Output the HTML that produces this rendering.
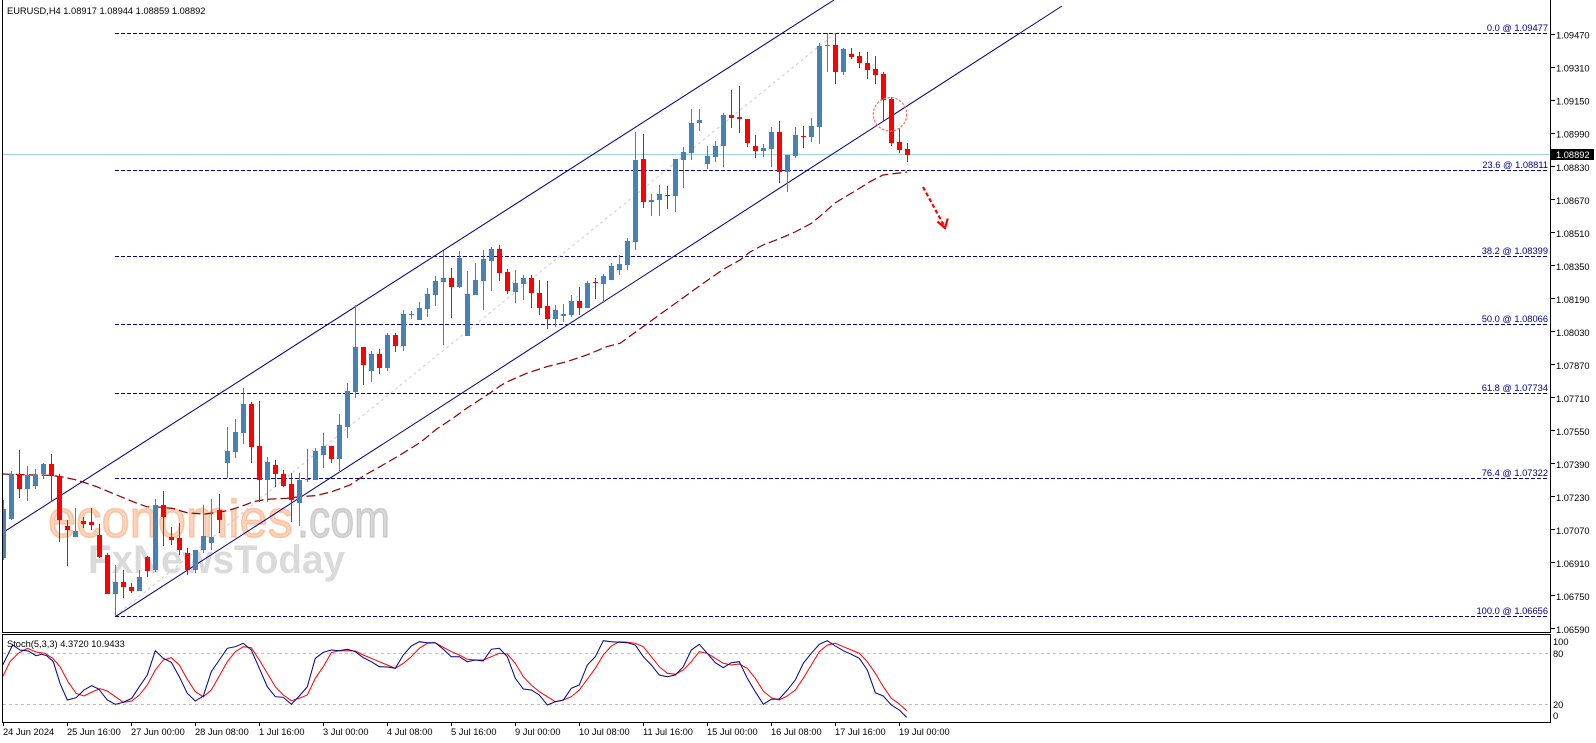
<!DOCTYPE html>
<html><head><meta charset="utf-8"><style>
html,body{margin:0;padding:0;background:#fff;width:1596px;height:743px;overflow:hidden}
svg{display:block}
text{font-family:"Liberation Sans",Arial,sans-serif;font-size:9.3px;fill:#000}
.fib{fill:#000080;text-anchor:end}
</style></head><body>
<svg width="1596" height="743" viewBox="0 0 1596 743" xmlns="http://www.w3.org/2000/svg">
<defs>
<clipPath id="main"><rect x="3" y="0" width="1547" height="632"/></clipPath>
<clipPath id="ind"><rect x="3" y="635" width="1547" height="87"/></clipPath>
</defs>
<rect width="1596" height="743" fill="#fff"/>

<g clip-path="url(#main)">
<!-- watermark (behind) -->
<text x="48" y="537" textLength="245" lengthAdjust="spacingAndGlyphs" style="font-size:53px;fill:#f7a068;fill-opacity:0.45;stroke:#f7a068;stroke-opacity:0.45;stroke-width:1.6">economies</text>
<text x="297" y="537" textLength="93" lengthAdjust="spacingAndGlyphs" style="font-size:53px;fill:#b0b0b0;fill-opacity:0.5;stroke:#b0b0b0;stroke-opacity:0.5;stroke-width:1.4">.com</text>
<text x="88" y="573" textLength="257" lengthAdjust="spacingAndGlyphs" style="font-size:40px;font-weight:bold;fill:#a8a8a8;fill-opacity:0.42">FxNewsToday</text>

<!-- current price line -->
<line x1="2" y1="154.5" x2="1550" y2="154.5" stroke="#9ed6e2" stroke-width="1"/>
<!-- fib lines -->
<g stroke="#000080" stroke-width="1" stroke-dasharray="4,2" shape-rendering="crispEdges">
<line x1="115" y1="33.5" x2="1548" y2="33.5"/>
<line x1="115" y1="170.5" x2="1548" y2="170.5"/>
<line x1="115" y1="256.5" x2="1548" y2="256.5"/>
<line x1="115" y1="324.5" x2="1548" y2="324.5"/>
<line x1="115" y1="393.5" x2="1548" y2="393.5"/>
<line x1="115" y1="478.5" x2="1548" y2="478.5"/>
<line x1="115" y1="616.5" x2="1548" y2="616.5"/>
</g>
<!-- fib diagonal -->
<line x1="115.3" y1="616" x2="835" y2="33.3" stroke="#c8c8f0" stroke-width="1" stroke-dasharray="3,3"/>
<!-- channel -->
<line x1="2.5" y1="532.8" x2="834" y2="0" stroke="#000080" stroke-width="1"/>
<line x1="115.3" y1="616.7" x2="1062" y2="6" stroke="#000080" stroke-width="1"/>
<!-- MA -->
<path d="M2.7 474L33 475L50 475.3L63 477L76.7 480L96.7 486.7L116.7 495L133 501.7L146.7 506.7L163 507.3L173 508.5L188 513L205 514L220 512L230 510L245 505L253 501.7L266.7 499.3L286.7 498.3L300 496.7L316.7 495.5L331.7 491.7L350 485L365 475L380 466.7L400 455L420 442.7L436.7 429L453.3 418L466.7 408.3L476.7 401.7L490 393L500 386L506.7 382L526.7 373.3L546.7 366.7L566.7 361.7L586.7 355L606.7 346.7L620 343.3L650 321.6L680 300L700 285.6L723.3 269.3L740 260L750 252L763 245L780 238.5L795 232L812 223L825 212L835 203L850 194L860 188L870 181.7L883 175L895 173.5L907 172" fill="none" stroke="#8b0000" stroke-width="1.2" stroke-dasharray="9,4"/>

<!-- candles blue -->
<path d="M3.5 500V560M11.5 471V520M27.5 466V501M35.5 469V489M43.5 463V479M75.5 508V537M115.5 565V616M139.5 570V591M155.5 499V572M195.5 550V573M203.5 505V553M211.5 499V550M227.5 427V478M235.5 419V458M243.5 388V444M267.5 457V502M299.5 473V526M307.5 449V482M315.5 448V480M323.5 433V468M339.5 414V471M347.5 383V438M355.5 305V398M371.5 351V382M387.5 333V371M403.5 310V351M411.5 311V319M419.5 302V320M427.5 288V317M435.5 276V306M443.5 251V345M459.5 251V288M467.5 271V336M475.5 263V295M483.5 250V310M491.5 247V291M515.5 270V303M523.5 275V300M555.5 305V327M563.5 304V322M571.5 295V317M587.5 281V308M603.5 274V303M611.5 263V280M619.5 255V275M627.5 238V270M635.5 132V250M651.5 194V216M659.5 185V216M675.5 159V212M683.5 147V188M691.5 109V160M699.5 109V131M707.5 146V169M715.5 141V162M723.5 113V167M763.5 144V157M771.5 127V167M787.5 155V192M795.5 127V158M811.5 118V142M819.5 43V144M827.5 33V72M843.5 48V75" stroke="#4682b4" stroke-width="1" fill="none" shape-rendering="crispEdges"/>
<path d="M1 509h5v49h-5zM9 474h5v45h-5zM25 475h5v14h-5zM33 475h5v11h-5zM41 464h5v10h-5zM73 531h5v6h-5zM113 582h5v12h-5zM137 577h5v14h-5zM153 505h5v65h-5zM193 550h5v20h-5zM201 536h5v14h-5zM209 537h5v6h-5zM225 451h5v12h-5zM233 432h5v20h-5zM241 404h5v29h-5zM265 462h5v18h-5zM297 480h5v23h-5zM305 479h5v1h-5zM313 451h5v29h-5zM321 446h5v9h-5zM337 425h5v34h-5zM345 391h5v36h-5zM353 347h5v45h-5zM369 354h5v17h-5zM385 335h5v33h-5zM401 314h5v32h-5zM409 314h5v1h-5zM417 308h5v12h-5zM425 294h5v15h-5zM433 281h5v14h-5zM441 278h5v4h-5zM457 258h5v29h-5zM465 294h5v42h-5zM473 280h5v15h-5zM481 259h5v22h-5zM489 249h5v12h-5zM513 283h5v9h-5zM521 278h5v6h-5zM553 310h5v9h-5zM561 314h5v2h-5zM569 301h5v14h-5zM585 283h5v25h-5zM601 276h5v8h-5zM609 266h5v14h-5zM617 264h5v6h-5zM625 241h5v24h-5zM633 160h5v82h-5zM649 200h5v2h-5zM657 194h5v6h-5zM673 159h5v37h-5zM681 152h5v8h-5zM689 123h5v30h-5zM697 120h5v3h-5zM705 156h5v8h-5zM713 146h5v11h-5zM721 115h5v31h-5zM761 148h5v3h-5zM769 132h5v17h-5zM785 155h5v17h-5zM793 135h5v21h-5zM809 126h5v11h-5zM817 46h5v81h-5zM825 45h5v1h-5zM841 49h5v23h-5z" fill="#4682b4" shape-rendering="crispEdges"/>
<!-- candles red -->
<path d="M19.5 450V498M51.5 454V502M59.5 474V542M67.5 520V566M83.5 517V528M91.5 508V530M99.5 524V558M107.5 553V594M123.5 570V598M131.5 583V593M147.5 556V577M163.5 491V546M171.5 527V545M179.5 523V555M187.5 548V575M219.5 494V533M251.5 402V463M259.5 401V502M275.5 460V487M283.5 470V487M291.5 473V522M331.5 446V463M363.5 347V385M379.5 349V374M395.5 333V352M451.5 268V318M499.5 245V281M507.5 269V294M531.5 275V308M539.5 280V315M547.5 281V329M579.5 287V315M595.5 278V299M643.5 134V208M667.5 186V209M731.5 90V128M739.5 86V133M747.5 119V147M755.5 135V158M779.5 121V183M803.5 126V148M835.5 33V84M851.5 48V59M859.5 52V68M867.5 52V79M875.5 56V84M883.5 72V122M891.5 97V146M899.5 128V153M907.5 143V162" stroke="#ff0000" stroke-width="1" fill="none" shape-rendering="crispEdges"/>
<path d="M17 474h5v15h-5zM49 464h5v12h-5zM57 476h5v44h-5zM65 526h5v4h-5zM81 521h5v3h-5zM89 522h5v3h-5zM97 535h5v22h-5zM105 555h5v39h-5zM121 582h5v5h-5zM129 587h5v4h-5zM145 557h5v14h-5zM161 505h5v12h-5zM169 537h5v3h-5zM177 538h5v12h-5zM185 553h5v17h-5zM217 510h5v10h-5zM249 404h5v43h-5zM257 446h5v34h-5zM273 465h5v9h-5zM281 474h5v12h-5zM289 484h5v16h-5zM329 446h5v13h-5zM361 347h5v18h-5zM377 354h5v14h-5zM393 335h5v11h-5zM449 278h5v9h-5zM497 249h5v24h-5zM505 272h5v19h-5zM529 278h5v15h-5zM537 293h5v15h-5zM545 306h5v13h-5zM577 301h5v7h-5zM593 282h5v1h-5zM641 159h5v43h-5zM665 195h5v1h-5zM729 115h5v3h-5zM737 117h5v2h-5zM745 119h5v24h-5zM753 146h5v5h-5zM777 132h5v40h-5zM801 136h5v1h-5zM833 45h5v27h-5zM849 54h5v3h-5zM857 56h5v7h-5zM865 63h5v7h-5zM873 69h5v6h-5zM881 74h5v26h-5zM889 99h5v44h-5zM897 142h5v8h-5zM905 149h5v6h-5z" fill="#ff0000" shape-rendering="crispEdges"/>

<!-- circle & arrow -->
<circle cx="890" cy="114.3" r="16.7" fill="none" stroke="#ff7070" stroke-width="1.3" stroke-dasharray="2.5,1.5"/>
<line x1="923" y1="187" x2="944.5" y2="226.5" stroke="#ff0000" stroke-width="2.2" stroke-dasharray="4,2.5"/>
<path d="M937.5 221.5L945 228L947.8 218.5" fill="none" stroke="#ff0000" stroke-width="2.2"/>
</g>

<!-- header -->
<text x="7" y="14">EURUSD,H4  1.08917 1.08944 1.08859 1.08892</text>

<!-- fib labels -->
<text class="fib" x="1548" y="31">0.0 @ 1.09477</text>
<text class="fib" x="1548" y="168">23.6 @ 1.08811</text>
<text class="fib" x="1548" y="254">38.2 @ 1.08399</text>
<text class="fib" x="1548" y="322">50.0 @ 1.08066</text>
<text class="fib" x="1548" y="391">61.8 @ 1.07734</text>
<text class="fib" x="1548" y="476">76.4 @ 1.07322</text>
<text class="fib" x="1548" y="614">100.0 @ 1.06656</text>

<!-- frames -->
<g stroke="#000" stroke-width="1" fill="none" shape-rendering="crispEdges">
<line x1="2.5" y1="0" x2="2.5" y2="632.5"/>
<line x1="2" y1="632.5" x2="1551" y2="632.5"/>
<line x1="1550.5" y1="0" x2="1550.5" y2="632.5"/>
<rect x="2.5" y="634.5" width="1548" height="88"/>
</g>

<!-- axis ticks -->
<g stroke="#000" stroke-width="1" shape-rendering="crispEdges">
<path d="M1550 34.5h5M1550 67.5h5M1550 100.5h5M1550 133.5h5M1550 166.5h5M1550 199.5h5M1550 232.5h5M1550 265.5h5M1550 298.5h5M1550 331.5h5M1550 364.5h5M1550 397.5h5M1550 430.5h5M1550 463.5h5M1550 496.5h5M1550 529.5h5M1550 562.5h5M1550 595.5h5M1550 628.5h5"/>
<path d="M3.5 722v4M67.5 722v4M131.5 722v4M195.5 722v4M259.5 722v4M323.5 722v4M387.5 722v4M451.5 722v4M515.5 722v4M579.5 722v4M643.5 722v4M707.5 722v4M771.5 722v4M835.5 722v4M899.5 722v4"/>
</g>
<g>
<text x="1556" y="38.5">1.09470</text>
<text x="1556" y="71.5">1.09310</text>
<text x="1556" y="104.5">1.09150</text>
<text x="1556" y="137.5">1.08990</text>
<text x="1556" y="171">1.08830</text>
<text x="1556" y="204">1.08670</text>
<text x="1556" y="237">1.08510</text>
<text x="1556" y="270">1.08350</text>
<text x="1556" y="303">1.08190</text>
<text x="1556" y="336">1.08030</text>
<text x="1556" y="369">1.07870</text>
<text x="1556" y="402">1.07710</text>
<text x="1556" y="435">1.07550</text>
<text x="1556" y="468">1.07390</text>
<text x="1556" y="501">1.07230</text>
<text x="1556" y="534">1.07070</text>
<text x="1556" y="567">1.06910</text>
<text x="1556" y="600">1.06750</text>
<text x="1556" y="633">1.06590</text>
</g>
<!-- current price box -->
<rect x="1551" y="149" width="43" height="11" fill="#000"/>
<text x="1556" y="158" style="fill:#fff">1.08892</text>

<!-- indicator -->
<g clip-path="url(#ind)">
<g stroke="#c0c0c0" stroke-width="1" stroke-dasharray="3,3" shape-rendering="crispEdges">
<line x1="3" y1="653.5" x2="1550" y2="653.5"/>
<line x1="3" y1="704.5" x2="1550" y2="704.5"/>
</g>
<polyline fill="none" stroke="#ff0000" stroke-width="1" points="2.7,676.7 10,661.7 18.3,653.3 27.3,648.3 36,652 45,653.3 52.7,658.3 60,666.7 68,681.7 76,693.3 84,696 92,692 100,688.7 107.3,691 115.3,696.7 123.3,702.3 131.7,701 139.3,695 147.3,685 155.3,670 163.3,660 171.3,657.7 179.3,665 187.3,679.3 195.3,691.7 203.3,696.7 211.3,690 219.3,676 227.3,661.7 235.3,651.7 243.3,646.7 251.3,647.7 259.3,660 267.3,673.3 275.3,686.7 283.3,695 291.3,700.7 299.3,698.3 307.3,695 315.3,678.3 323.3,666.7 331.3,652.7 339.3,650.7 347.3,650.7 355.3,651 363.3,655 371.3,658.3 379.3,661.7 387.3,665 395.3,668.3 403.3,663.3 411.3,656.7 419.3,648.3 427.3,643.3 435.3,642.7 443.3,647.3 451.3,651.7 459.3,655 467.3,659.3 475.3,660 483.3,660 491.3,656.7 499.3,653.3 507.3,654 515.3,663.3 523.3,676.7 531.3,685 539.3,691.7 547.3,696.7 555.3,701.7 563.3,700 571.3,696.7 579.3,690 587.3,679.3 595.3,668.3 603.3,655 611.3,646 619.3,641.7 627.3,642.3 635.3,643.3 643.3,646.7 651.3,656.7 659.3,666.7 667.3,673.3 675.3,674.3 683.3,670 691.3,661.7 699.3,651.7 707.3,653.3 715.3,658.3 723.3,663.3 731.3,665 739.3,664 747.3,668.3 755.3,678.3 763.3,691 771.3,697.7 779.3,700 787.3,696 795.3,690 803.3,678.3 811.3,665 819.3,651.7 827.3,645 835.3,643.3 843.3,646.7 851.3,650 859.3,653.3 867.3,661.7 875.3,673.3 883.3,686.7 891.3,698.3 899.3,704 906.7,710.7"/>
<polyline fill="none" stroke="#00008b" stroke-width="1" points="2.7,665 12.7,645 20,650 28.3,651 36,655.7 41.7,654.3 46.7,655.7 53.3,661.7 60,683.3 67.3,700 76,697.7 84,690 91.7,685.7 98.7,689 107.3,700 115.3,704.3 123.3,702.3 131.7,698.3 139.3,686.7 147.3,675 155.3,650.7 163.3,658.3 171.3,662.3 179.3,676.7 187.3,693.3 195.3,701 203.3,696 211.3,671.7 219.3,660 227.3,648.3 235.3,646.7 243.3,643.3 251.3,650 259.3,668.3 267.3,686.7 275.3,696.7 283.3,697.3 291.3,704.3 299.3,696 307.3,686.7 315.3,658.3 323.3,652.3 331.3,650 339.3,650.7 347.3,649.3 355.3,651.7 363.3,657.7 371.3,661.7 379.3,666.7 387.3,667 395.3,668.3 403.3,655 411.3,646 419.3,641.7 427.3,642.7 435.3,642.7 443.3,649.3 451.3,656.7 459.3,656.7 467.3,661.7 475.3,660 483.3,661 491.3,649.3 499.3,648.3 507.3,656.7 515.3,678.3 523.3,689 531.3,690 539.3,695 547.3,705 555.3,701.7 563.3,700 571.3,688.3 579.3,685 587.3,665 595.3,656.7 603.3,640.7 611.3,641.7 619.3,642.3 627.3,642.7 635.3,645 643.3,656.7 651.3,665 659.3,675 667.3,676.7 675.3,675 683.3,666.7 691.3,650 699.3,644.3 707.3,653.3 715.3,662.7 723.3,667.7 731.3,662.7 739.3,661.7 747.3,678.3 755.3,691.7 763.3,704.3 771.3,699.3 779.3,699 787.3,690 795.3,680 803.3,663.3 811.3,653.3 819.3,644.3 827.3,640.7 835.3,646 843.3,650.7 851.3,654.3 859.3,658.3 867.3,670 875.3,692.7 883.3,696 891.3,705 899.3,710 906.7,717.3"/>
<text x="7" y="647">Stoch(5,3,3) 4.3720 10.9433</text>
</g>
<text x="1553" y="645">100</text>
<text x="1553" y="657">80</text>
<text x="1553" y="708">20</text>
<text x="1553" y="719">0</text>

<!-- time labels -->
<g>
<text x="3" y="735">24 Jun 2024</text>
<text x="67" y="735">25 Jun 16:00</text>
<text x="131" y="735">27 Jun 00:00</text>
<text x="195" y="735">28 Jun 08:00</text>
<text x="259" y="735">1 Jul 16:00</text>
<text x="323" y="735">3 Jul 00:00</text>
<text x="387" y="735">4 Jul 08:00</text>
<text x="451" y="735">5 Jul 16:00</text>
<text x="515" y="735">9 Jul 00:00</text>
<text x="579" y="735">10 Jul 08:00</text>
<text x="643" y="735">11 Jul 16:00</text>
<text x="707" y="735">15 Jul 00:00</text>
<text x="771" y="735">16 Jul 08:00</text>
<text x="835" y="735">17 Jul 16:00</text>
<text x="899" y="735">19 Jul 00:00</text>
</g>
</svg>
</body></html>
